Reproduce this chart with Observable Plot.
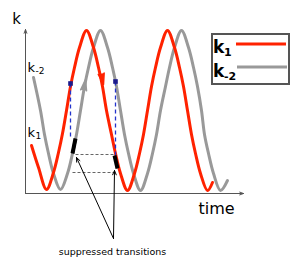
<!DOCTYPE html>
<html><head><meta charset="utf-8">
<script src="https://cdn.jsdelivr.net/npm/d3@7"></script>
<script src="https://cdn.jsdelivr.net/npm/@observablehq/plot@0.6"></script>
<style>
html,body{margin:0;padding:0;background:#fff;}
#wrap{position:relative;width:305px;height:269px;font-family:"DejaVu Sans",Verdana,sans-serif;}
#wrap svg{display:block;}
#legend{position:absolute;left:211px;top:33px;}
</style>
</head><body>
<div id="wrap"></div>
<script>
// k1 (red) curve: [time, k]
const k1Time = [6,13,21,28,33,37,41,45,49,54,61,68,73,77,81,86,90,95,102,109,114,118,122,126,130,135,142,149,154,158,162,166,170,175,182,187];
const k1Val  = [48,26,4,21,41,60,83,107,126,146,163,146,126,107,83,59,40,20,3,20,40,59,83,107,126,146,163,146,126,107,83,59,40,20,3,11];
// k-2 (gray) curve
const km2Time = [8,15,19,23,28,35,42,47,51,55,59,63,68,75,82,87,91,95,99,103,108,115,122,127,131,135,140,144,149,156,163,168,172,176,179,183,188,195,202];
const km2Val  = [116,83,59,40,20,4,20,40,59,83,107,126,146,163,146,126,107,83,59,40,20,3,20,40,59,83,107,126,146,163,146,126,107,83,59,40,20,3,13];
// axes extent
const axisEnd = {time: 218, k: 164};
// blue dashed drops: [time, kTop, kBottom]
const drops = [[45,110,56],[90,112,38]];
// suppressed transition segments (thick black)
const suppressed = [[[47,40],[50,55]], [[89,38],[92,25]]];
// gray dashed level lines: [k, timeStart, timeEnd]
const levels = [[39,50,90],[21,47,88]];
// annotation pointer: origin and targets
const pointerOrigin = [88,-45];
const pointerTargets = [[51,36],[89,23]];
// direction arrowheads on curves: [time, k, angle, series]
const dirArrows = [[60,114,10,"k-2"],[78,109,168,"k1"]];
// labels
const labels = [
  {text:"k", t:-9, k:170, size:15, anchor:"middle"},
  {text:"time", t:191, k:-20, size:16, anchor:"start"},
  {text:"suppressed transitions", t:87, k:-61, size:9.5, anchor:"middle"}
];
const kLabels = [
  {main:"k", sub:"-2", t:2, k:122},
  {main:"k", sub:"1", t:2, k:57}
];
const seriesNames = ["k1","k-2"];
const seriesColors = ["#ff2200","#999999"];

const red = k1Time.map((t,i)=>({t, k:k1Val[i]}));
const gray = km2Time.map((t,i)=>({t, k:km2Val[i]}));
const colorOf = s => seriesColors[seriesNames.indexOf(s)];

const chart = Plot.plot({
  width:305, height:269,
  marginLeft:25, marginRight:62, marginTop:29, marginBottom:76,
  x:{domain:[0,axisEnd.time], axis:null},
  y:{domain:[0,axisEnd.k], axis:null},
  style:{fontFamily:"DejaVu Sans, Verdana, sans-serif", background:"#fff", overflow:"visible"},
  marks:[
    Plot.arrow([{x1:0,y1:0,x2:axisEnd.time,y2:0},{x1:0,y1:0,x2:0,y2:axisEnd.k}],
      {x1:"x1",y1:"y1",x2:"x2",y2:"y2",stroke:"#555",strokeWidth:1,headLength:6,headAngle:40}),
    Plot.line(gray,{x:"t",y:"k",stroke:colorOf("k-2"),strokeWidth:3,curve:"catmull-rom",strokeLinecap:"round"}),
    Plot.line(red,{x:"t",y:"k",stroke:colorOf("k1"),strokeWidth:3,curve:"catmull-rom",strokeLinecap:"round"}),
    Plot.link(drops,{x1:d=>d[0],x2:d=>d[0],y1:d=>d[1],y2:d=>d[2],stroke:"#2233cc",strokeWidth:1.3,strokeDasharray:"4,3"}),
    Plot.dot(drops,{x:d=>d[0],y:d=>d[1],symbol:"square",r:2.6,fill:"#1a1a8c"}),
    Plot.link(levels,{x1:d=>d[1],x2:d=>d[2],y1:d=>d[0],y2:d=>d[0],stroke:"#666",strokeWidth:1,strokeDasharray:"3,2"}),
    Plot.link(suppressed,{x1:d=>d[0][0],y1:d=>d[0][1],x2:d=>d[1][0],y2:d=>d[1][1],stroke:"#000",strokeWidth:4}),
    Plot.arrow(pointerTargets,{x1:()=>pointerOrigin[0],y1:()=>pointerOrigin[1],x2:d=>d[0],y2:d=>d[1],stroke:"#000",strokeWidth:1,headLength:7,headAngle:45}),
    Plot.vector(dirArrows,{x:d=>d[0],y:d=>d[1],rotate:d=>d[2],shape:"spike",anchor:"end",length:11,r:3,
      stroke:d=>colorOf(d[3]),fill:d=>colorOf(d[3])}),
    Plot.text(labels,{x:"t",y:"k",text:"text",fontSize:d=>d.size,textAnchor:d=>d.anchor,lineAnchor:"bottom",fill:"#000"}),
    Plot.text(kLabels,{x:"t",y:"k",text:"main",fontSize:13,textAnchor:"start",lineAnchor:"bottom",fill:"#000"}),
    Plot.text(kLabels,{x:"t",y:"k",text:"sub",fontSize:9,textAnchor:"start",lineAnchor:"bottom",dx:8,dy:2,fill:"#000"})
  ]
});
document.getElementById("wrap").appendChild(chart);

// legend overlay
const ns="http://www.w3.org/2000/svg";
const lg=document.createElementNS(ns,"svg");
lg.setAttribute("id","legend");lg.setAttribute("width",79);lg.setAttribute("height",52);
const legendSubs=["1","-2"];
let html=`<rect x="1" y="1" width="77" height="50" fill="#fff" stroke="#555" stroke-width="2"/>`;
seriesNames.forEach((s,i)=>{
  const base=20+i*24;
  html+=`<text x="2" y="${base}" font-family="DejaVu Sans, Verdana, sans-serif" font-weight="bold" font-size="17">k</text>`;
  html+=`<text x="13" y="${base+3}" font-family="DejaVu Sans, Verdana, sans-serif" font-weight="bold" font-size="11">${legendSubs[i]}</text>`;
  html+=`<line x1="${25+i}" x2="${75+i}" y1="${11+i*23}" y2="${11+i*23}" stroke="${seriesColors[i]}" stroke-width="3"/>`;
});
lg.innerHTML=html;
document.getElementById("wrap").appendChild(lg);
</script>
</body></html>
